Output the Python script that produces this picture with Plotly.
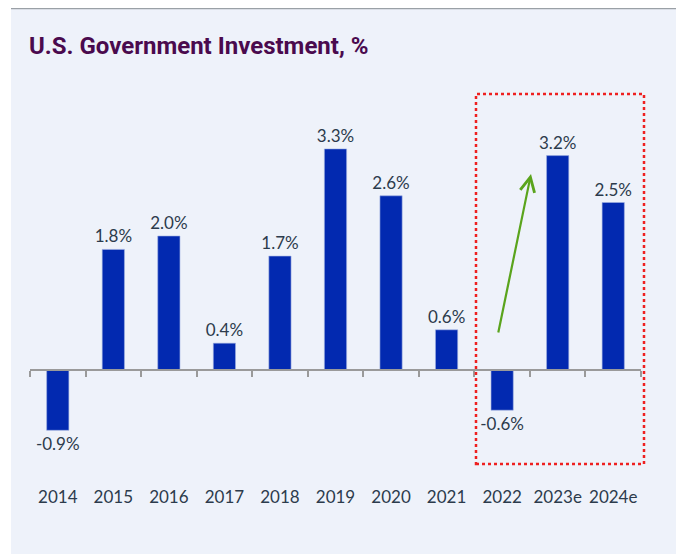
import plotly.graph_objects as go

years = ['2014', '2015', '2016', '2017', '2018', '2019', '2020', '2021', '2022', '2023e', '2024e']
investment = [-0.9, 1.8, 2.0, 0.4, 1.7, 3.3, 2.6, 0.6, -0.6, 3.2, 2.5]
labels = ['%.1f%%' % v for v in investment]

# the page body adds an 8px margin, so the figure is drawn 8px smaller and offset
OFF = 8
W, H = 684 - OFF, 554 - OFF
L, R, T, B = 30 - OFF, 43, 75 - OFF, 72
pw, ph = W - L - R, H - T - B


def px_x(x):
    return (x - OFF - L) / pw


def px_y(y):
    return (H - B - (y - OFF)) / ph


text_col = '#2c3b4c'
font = 'Lato'
zero_px = 370 - OFF
y_lo, y_hi = -(H - B - zero_px) / 67.0, (zero_px - T) / 67.0
zero_pos = px_y(370)

fig = go.Figure()
fig.add_trace(go.Bar(
    x=years, y=investment, text=labels, textposition='outside', constraintext='none',
    textfont=dict(size=17, color=text_col, family=font),
    marker=dict(color='#0229b0', line=dict(color='#9fb0e0', width=0.6)),
    cliponaxis=False, xaxis='x', yaxis='y', showlegend=False,
))
# invisible trace carrying the year labels at the bottom
fig.add_trace(go.Scatter(x=years, y=[0] * len(years), mode='markers',
                         marker=dict(opacity=0), xaxis='x2', yaxis='y',
                         showlegend=False, hoverinfo='skip'))

fig.update_layout(
    width=W, height=H,
    margin=dict(l=L, r=R, t=T, b=B),
    paper_bgcolor='#eef2fa', plot_bgcolor='#eef2fa',
    bargap=0.6,
    title=dict(text='<b>U.S. Government Investment, %</b>', xref='container', yref='container',
               x=(29 - OFF) / W, xanchor='left', y=1 - (46 - OFF) / H, yanchor='middle',
               font=dict(family='Roboto, sans-serif', size=24, color='#4a0a4e')),
    xaxis=dict(type='category', anchor='free', position=zero_pos, range=[-0.5, 10.5],
               showline=True, linecolor='#9a9a9a', linewidth=1.5,
               ticks='outside', tickson='boundaries', ticklen=6, tickcolor='#9a9a9a', tickwidth=1.5,
               showticklabels=False, showgrid=False, zeroline=False),
    xaxis2=dict(type='category', overlaying='x', anchor='y', side='bottom', range=[-0.5, 10.5],
                showline=False, ticks='', showgrid=False, zeroline=False, ticklabelstandoff=3,
                tickfont=dict(size=17, color=text_col, family=font)),
    yaxis=dict(range=[y_lo, y_hi], visible=False, showgrid=False, zeroline=False),
    shapes=[
        # white strip on the left and top rule of the panel
        dict(type='rect', xref='paper', yref='paper', x0=px_x(OFF), x1=px_x(11), y0=px_y(554), y1=px_y(OFF),
             fillcolor='white', line=dict(width=0), layer='below'),
        dict(type='line', xref='paper', yref='paper', x0=px_x(11), x1=px_x(684), y0=px_y(8.5), y1=px_y(8.5),
             line=dict(color='#9aa0a6', width=1.5)),
        # highlight box around the latest years
        dict(type='rect', xref='paper', yref='paper', x0=px_x(476), x1=px_x(644), y0=px_y(464), y1=px_y(94),
             line=dict(color='#ee2020', width=2.5, dash='dot')),
    ],
    annotations=[
        dict(xref='paper', yref='paper', x=px_x(531), y=px_y(174), ax=498 - 531, ay=334 - 174,
             text='', showarrow=True, arrowhead=5, arrowsize=1.3, arrowwidth=2.2, arrowcolor='#5aa41c'),
    ],
)

fig.write_html('out.html')
